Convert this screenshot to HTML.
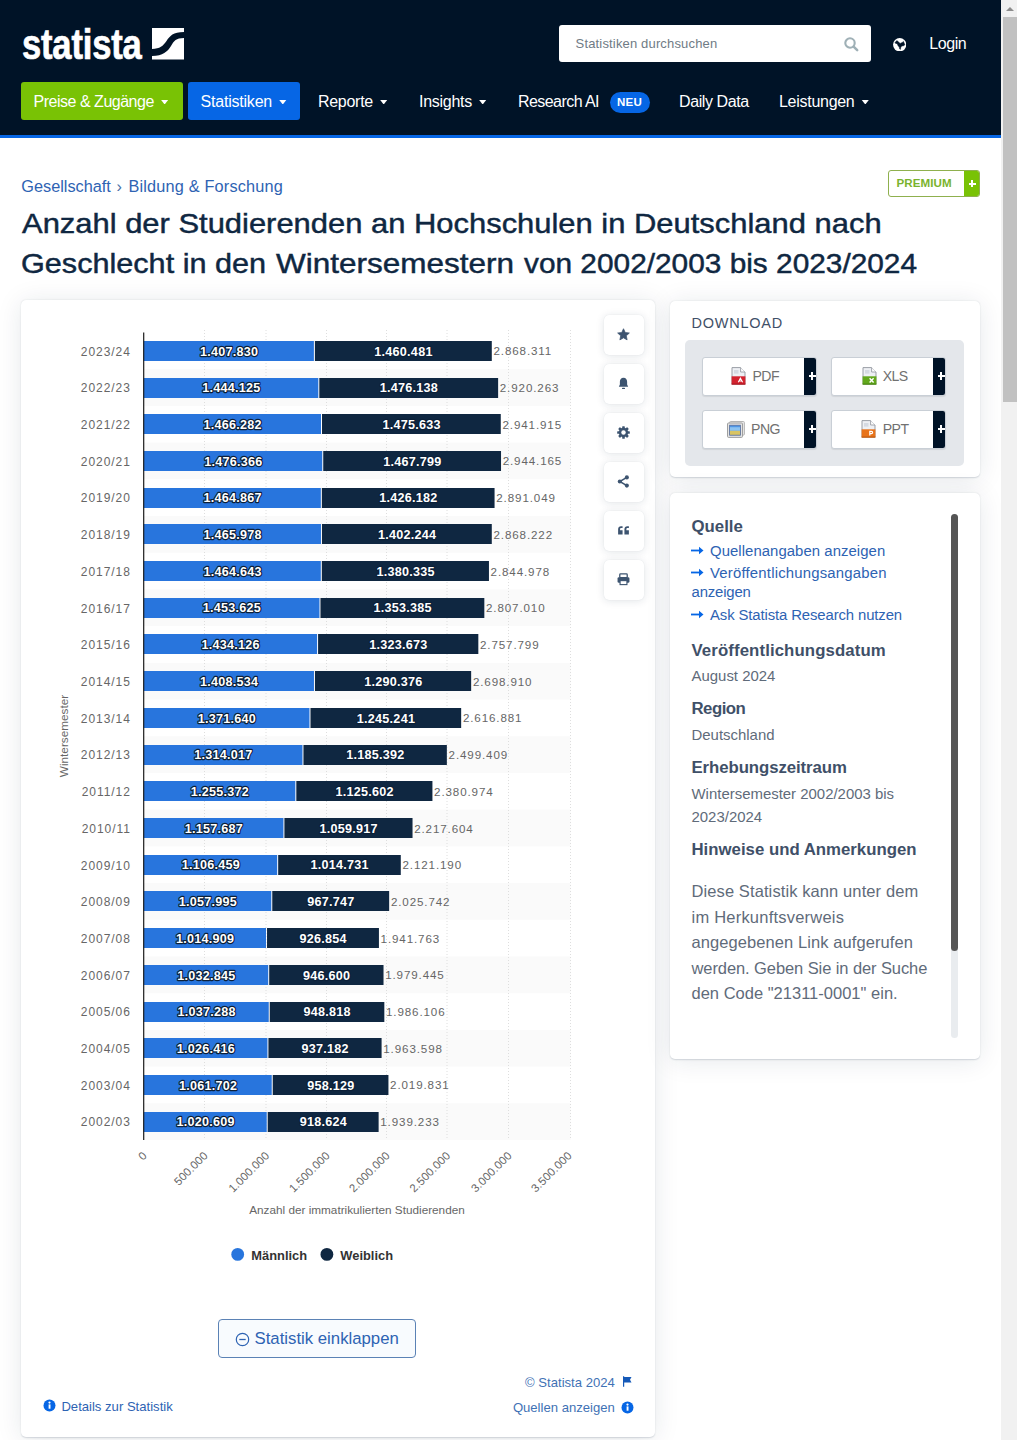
<!DOCTYPE html>
<html lang="de">
<head>
<meta charset="utf-8">
<title>Studierende an Hochschulen in Deutschland nach Geschlecht bis 2023/2024 | Statista</title>
<style>
*{box-sizing:border-box;margin:0;padding:0}
html,body{width:1017px;height:1440px;overflow:hidden;background:#fff}
body{font-family:"Liberation Sans",sans-serif;color:#0f2741;position:relative}
a{text-decoration:none;color:inherit}
.abs{position:absolute}
/* fake scrollbar */
.sb{position:absolute;left:1001px;top:0;width:16px;height:1440px;background:#f1f1f1}
.sb .thumb{position:absolute;left:1.8px;top:17px;width:14.2px;height:384.5px;background:#c1c1c1}
.sb .arr{position:absolute;left:4.8px;top:6.5px;width:0;height:0;border-left:4px solid transparent;border-right:4px solid transparent;border-bottom:4.4px solid #8c8c8c}
/* header */
.hdr{position:absolute;left:0;top:0;width:1001px;height:138px;background:#001327;border-bottom:3px solid #0666e5}
.logo{position:absolute;left:21.6px;top:21.4px;color:#fff;font-weight:700;font-size:42px;line-height:48px;letter-spacing:-0.2px;transform-origin:0 50%;transform:scaleX(.822);white-space:nowrap;-webkit-text-stroke:.7px #fff}
.logomark{position:absolute;left:152px;top:28px}
.search{position:absolute;left:558.6px;top:24.7px;width:312.2px;height:37.8px;background:#fff;border-radius:3px}
.search span{position:absolute;left:17px;top:11.2px;font-size:13px;letter-spacing:.16px;line-height:16px;color:#6f7b85}
.search svg{position:absolute;left:285.3px;top:12px}
.globe{position:absolute;left:893.1px;top:37.5px}
.login{position:absolute;left:929.3px;top:32.5px;letter-spacing:-.45px;font-size:16px;line-height:22px;color:#fff}
.nav{position:absolute;top:82px;height:38px;line-height:39.2px;font-size:16px;color:#fff;white-space:nowrap}
.nav.btn{border-radius:3px;padding-left:12.6px}
.nav i{display:inline-block;width:7.8px;height:4.8px;margin-left:6.9px;vertical-align:2.6px;background:#fff;clip-path:polygon(0 0,100% 0,50% 100%)}
.neu{display:inline-block;vertical-align:1px;margin-left:10.5px;letter-spacing:.2px;background:#0666e5;color:#fff;font-size:11.5px;font-weight:700;line-height:21px;height:21px;width:40px;text-align:center;border-radius:11px;letter-spacing:.2px}
/* content */
.bc{position:absolute;left:21.3px;top:175.3px;font-size:16.3px;line-height:22px;color:#2e63b3;white-space:nowrap}
.bc .sep{color:#4a6fa8;margin:0 6.6px 0 5.5px}
.bc a+span+a{letter-spacing:.18px}
.prem{position:absolute;left:888px;top:170px;width:92px;height:27px;border:1px solid #8fb04e;border-radius:3px;background:#fff;overflow:hidden}
.prem b{position:absolute;left:7.4px;top:-1.1px;line-height:25px;font-size:11.6px;color:#7ab32e;letter-spacing:.1px}
.prem u{position:absolute;right:-1px;top:-1px;width:16px;height:27px;background:#79c205}
.prem u:before,.prem u:after{content:"";position:absolute;background:#fff;left:4.5px;top:13px;width:7px;height:1.8px}
.prem u:after{left:7.1px;top:10.4px;width:1.8px;height:7px}
h1{position:absolute;left:22.2px;top:203.9px;font-size:27.8px;line-height:39.7px;font-weight:400;color:#0f2741;white-space:nowrap;-webkit-text-stroke:.45px #0f2741}
h1 span{display:block;transform-origin:0 0}
.card{position:absolute;background:#fff;border-radius:5px;box-shadow:0 .5px 1.5px rgba(15,39,65,.16),0 2px 26px rgba(15,39,65,.10)}
.chart{position:absolute;left:0;top:-0.4px}
.chart text{font-family:"Liberation Sans",sans-serif}
.cat{font-size:12px;fill:#666;letter-spacing:.95px}
.tot{font-size:11.6px;fill:#666;letter-spacing:.88px}
.dl{font-size:12.6px;letter-spacing:.25px;font-weight:700;fill:#fff;paint-order:stroke;stroke:#0c2038;stroke-width:2.3px;stroke-linejoin:round}
.xl{font-size:11.4px;fill:#666;letter-spacing:.15px}
.xt,.yt{font-size:11.75px;fill:#666}
.lg{font-size:12.9px;font-weight:700;fill:#333}
.ib{position:absolute;left:603.5px;width:40px;height:40px;background:#fff;border-radius:5px;box-shadow:0 0 1px rgba(15,39,65,.12),0 1px 9px rgba(15,39,65,.12)}
.ib svg{position:absolute;left:13.3px;top:13.2px;width:13px;height:13px}

/* right column */
.dlh{position:absolute;left:21.6px;top:12.4px;font-size:14.5px;line-height:20px;letter-spacing:.75px;color:#3f5068}
.dlbox{position:absolute;left:15px;top:39px;width:279px;height:126px;background:#e4e7eb;border-radius:5px}
.dbt{position:absolute;width:115px;height:39px;background:#fff;border:1px solid #c9cfd6;border-radius:3px;overflow:hidden;box-shadow:0 1px 1px rgba(0,0,0,.08)}
.dbt u{position:absolute;right:-1px;top:-1px;width:13px;height:39px;background:#001327}
.dbt u:before,.dbt u:after{content:"";position:absolute;background:#fff;left:4.6px;top:18.5px;width:7.4px;height:1.8px}
.dbt u:after{left:7.4px;top:15.7px;width:1.8px;height:7.4px}
.dbt span{position:absolute;top:8.6px;font-size:14.1px;letter-spacing:-.6px;line-height:20px;color:#717171}
.dbt div{position:absolute;line-height:0}
.info h3{position:absolute;left:21.5px;font-size:16.8px;line-height:22px;font-weight:700;color:#3f5068;white-space:nowrap}
.info p{position:absolute;left:21.5px;font-size:14.95px;line-height:23px;color:#5f6b7a;white-space:nowrap}
.info p.big{font-size:16.5px;line-height:25.5px;letter-spacing:.05px}
.info a{position:absolute;left:21.5px;font-size:14.9px;line-height:21px;color:#2e63b3;white-space:nowrap}
.info a svg{display:inline-block;margin-right:6.5px;margin-left:-1px;vertical-align:1px}
.sbar{position:absolute;left:281px;top:21px;width:7px;height:524px;background:#e9ecef;border-radius:4px}
.sbar i{position:absolute;left:0;top:0;width:7px;height:437px;background:#555;border-radius:4px}
.collapse{position:absolute;left:197px;top:1019px;width:198px;height:39px;border:1px solid #5b82b5;border-radius:4px;background:#f8fbfe;color:#2e63b3;font-size:16.75px;line-height:38.4px;white-space:nowrap}
.collapse svg{position:absolute;left:16px;top:12px}
.collapse span{position:absolute;left:35.5px;top:0}
.ft{position:absolute;font-size:13.1px;line-height:18px;color:#3f72b5;white-space:nowrap}
</style>
</head>
<body>
<div class="hdr">
  <div class="logo">statista</div>
  <svg class="logomark" width="32" height="32" viewBox="0 0 32 32"><rect width="32" height="31.5" fill="#fff"/><path d="M0 20.9 C8 20.9 11 18 14.5 13 C18 8 21 4.2 32 4.1 L32 10.1 C24 10.2 22 13 19 18 C15.5 23.5 11 28 0 28 Z" fill="#001327"/></svg>
  <div class="search"><span>Statistiken durchsuchen</span>
    <svg width="15" height="15" viewBox="0 0 15 15"><circle cx="6" cy="6" r="4.7" fill="none" stroke="#9fb0b6" stroke-width="2.1"/><path d="M9.6 9.6 L13.2 13.2" stroke="#9fb0b6" stroke-width="2.5" stroke-linecap="round"/></svg>
  </div>
  <svg class="globe" width="13.4" height="13.4" viewBox="0 0 13.3 13.3"><circle cx="6.65" cy="6.65" r="6.6" fill="#fff"/><path d="M1.9 4.6L3.8 2.6L5 3.6L7.1 5.4L9.2 4.4L10.4 3.4L11 5L11.8 6.7L10.6 7.6L8.6 8L7.8 9.2L7.3 11.4L6.6 10.8L6.2 9L5 7.6L4.2 5.6L2.8 5.4Z" fill="#001327" stroke="#001327" stroke-width=".5" stroke-linejoin="round"/></svg>
  <div class="login">Login</div>
  <div class="nav btn" style="left:21px;width:162px;background:#79c205;letter-spacing:-.49px">Preise &amp; Zugänge<i></i></div>
  <div class="nav btn" style="left:188px;width:112px;background:#0666e5;letter-spacing:-.22px">Statistiken<i></i></div>
  <div class="nav" style="left:318px;letter-spacing:-.29px">Reporte<i></i></div>
  <div class="nav" style="left:419px;letter-spacing:-.28px">Insights<i></i></div>
  <div class="nav" style="left:518px;letter-spacing:-.56px">Research AI<span class="neu">NEU</span></div>
  <div class="nav" style="left:679px;letter-spacing:-.41px">Daily Data</div>
  <div class="nav" style="left:779px;letter-spacing:-.28px">Leistungen<i></i></div>
</div>

<div class="bc"><a>Gesellschaft</a><span class="sep">›</span><a>Bildung &amp; Forschung</a></div>
<div class="prem"><b>PREMIUM</b><u></u></div>
<h1><span style="transform:scaleX(1.1125)">Anzahl der Studierenden an Hochschulen in Deutschland nach</span><span style="transform:scaleX(1.1013);margin-left:-1.5px">Geschlecht in den&nbsp;</span><span style="position:absolute;left:253.6px;top:39.7px;transform:scaleX(1.1332)">Wintersemestern</span><span style="position:absolute;left:502.3px;top:39.7px;transform:scaleX(1.0729)">von 2002/2003 bis 2023/2024</span></h1>

<div class="card" style="left:21px;top:300.4px;width:634.4px;height:1136.6px">
<svg class="chart" width="634" height="1000" viewBox="21 300 634 1000">
<rect x="144" y="369.20" width="426.5" height="36.70" fill="#fafafa"/>
<rect x="144" y="442.61" width="426.5" height="36.70" fill="#fafafa"/>
<rect x="144" y="516.02" width="426.5" height="36.70" fill="#fafafa"/>
<rect x="144" y="589.43" width="426.5" height="36.70" fill="#fafafa"/>
<rect x="144" y="662.84" width="426.5" height="36.70" fill="#fafafa"/>
<rect x="144" y="736.25" width="426.5" height="36.70" fill="#fafafa"/>
<rect x="144" y="809.66" width="426.5" height="36.70" fill="#fafafa"/>
<rect x="144" y="883.07" width="426.5" height="36.70" fill="#fafafa"/>
<rect x="144" y="956.48" width="426.5" height="36.70" fill="#fafafa"/>
<rect x="144" y="1029.89" width="426.5" height="36.70" fill="#fafafa"/>
<rect x="144" y="1103.30" width="426.5" height="36.70" fill="#fafafa"/>
<line x1="204.5" y1="330" x2="204.5" y2="1140.0" stroke="#dedede" stroke-width="1" stroke-dasharray="1,2"/>
<line x1="266.0" y1="330" x2="266.0" y2="1140.0" stroke="#dedede" stroke-width="1" stroke-dasharray="1,2"/>
<line x1="326.5" y1="330" x2="326.5" y2="1140.0" stroke="#dedede" stroke-width="1" stroke-dasharray="1,2"/>
<line x1="386.5" y1="330" x2="386.5" y2="1140.0" stroke="#dedede" stroke-width="1" stroke-dasharray="1,2"/>
<line x1="447.0" y1="330" x2="447.0" y2="1140.0" stroke="#dedede" stroke-width="1" stroke-dasharray="1,2"/>
<line x1="508.5" y1="330" x2="508.5" y2="1140.0" stroke="#dedede" stroke-width="1" stroke-dasharray="1,2"/>
<line x1="570.5" y1="330" x2="570.5" y2="1140.0" stroke="#dedede" stroke-width="1" stroke-dasharray="1,2"/>
<rect x="143.5" y="341" width="170.39" height="20" fill="#2875dd"/>
<rect x="314.89" y="341" width="176.90" height="20" fill="#0f2741"/>
<rect x="143.5" y="378" width="174.81" height="20" fill="#2875dd"/>
<rect x="319.31" y="378" width="178.81" height="20" fill="#0f2741"/>
<rect x="143.5" y="414" width="177.51" height="20" fill="#2875dd"/>
<rect x="322.01" y="414" width="178.75" height="20" fill="#0f2741"/>
<rect x="143.5" y="451" width="178.74" height="20" fill="#2875dd"/>
<rect x="323.24" y="451" width="177.79" height="20" fill="#0f2741"/>
<rect x="143.5" y="488" width="177.34" height="20" fill="#2875dd"/>
<rect x="321.84" y="488" width="172.72" height="20" fill="#0f2741"/>
<rect x="143.5" y="524" width="177.47" height="20" fill="#2875dd"/>
<rect x="321.97" y="524" width="169.81" height="20" fill="#0f2741"/>
<rect x="143.5" y="561" width="177.31" height="20" fill="#2875dd"/>
<rect x="321.81" y="561" width="167.14" height="20" fill="#0f2741"/>
<rect x="143.5" y="598" width="175.97" height="20" fill="#2875dd"/>
<rect x="320.47" y="598" width="163.86" height="20" fill="#0f2741"/>
<rect x="143.5" y="634" width="173.59" height="20" fill="#2875dd"/>
<rect x="318.09" y="634" width="160.24" height="20" fill="#0f2741"/>
<rect x="143.5" y="671" width="170.47" height="20" fill="#2875dd"/>
<rect x="314.97" y="671" width="156.18" height="20" fill="#0f2741"/>
<rect x="143.5" y="708" width="165.98" height="20" fill="#2875dd"/>
<rect x="310.48" y="708" width="150.68" height="20" fill="#0f2741"/>
<rect x="143.5" y="745" width="158.96" height="20" fill="#2875dd"/>
<rect x="303.46" y="745" width="143.39" height="20" fill="#0f2741"/>
<rect x="143.5" y="781" width="151.82" height="20" fill="#2875dd"/>
<rect x="296.32" y="781" width="136.11" height="20" fill="#0f2741"/>
<rect x="143.5" y="818" width="139.92" height="20" fill="#2875dd"/>
<rect x="284.42" y="818" width="128.11" height="20" fill="#0f2741"/>
<rect x="143.5" y="855" width="133.68" height="20" fill="#2875dd"/>
<rect x="278.18" y="855" width="122.60" height="20" fill="#0f2741"/>
<rect x="143.5" y="891" width="127.77" height="20" fill="#2875dd"/>
<rect x="272.27" y="891" width="116.88" height="20" fill="#0f2741"/>
<rect x="143.5" y="928" width="122.53" height="20" fill="#2875dd"/>
<rect x="267.03" y="928" width="111.90" height="20" fill="#0f2741"/>
<rect x="143.5" y="965" width="124.71" height="20" fill="#2875dd"/>
<rect x="269.21" y="965" width="114.31" height="20" fill="#0f2741"/>
<rect x="143.5" y="1002" width="125.25" height="20" fill="#2875dd"/>
<rect x="269.75" y="1002" width="114.58" height="20" fill="#0f2741"/>
<rect x="143.5" y="1038" width="123.93" height="20" fill="#2875dd"/>
<rect x="268.43" y="1038" width="113.16" height="20" fill="#0f2741"/>
<rect x="143.5" y="1075" width="128.23" height="20" fill="#2875dd"/>
<rect x="272.73" y="1075" width="115.71" height="20" fill="#0f2741"/>
<rect x="143.5" y="1112" width="123.22" height="20" fill="#2875dd"/>
<rect x="267.72" y="1112" width="110.90" height="20" fill="#0f2741"/>
<line x1="143.7" y1="332.5" x2="143.7" y2="1140.0" stroke="#1b1b1b" stroke-width="1.2"/>
<text class="cat" x="130.8" y="355.6" text-anchor="end">2023/24</text>
<text class="dl" x="229.1" y="355.5" text-anchor="middle">1.407.830</text>
<text class="dl" x="403.5" y="355.5" text-anchor="middle">1.460.481</text>
<text class="tot" x="493.5" y="355.3">2.868.311</text>
<text class="cat" x="130.8" y="392.3" text-anchor="end">2022/23</text>
<text class="dl" x="231.4" y="392.2" text-anchor="middle">1.444.125</text>
<text class="dl" x="408.9" y="392.2" text-anchor="middle">1.476.138</text>
<text class="tot" x="499.8" y="392.0">2.920.263</text>
<text class="cat" x="130.8" y="429.0" text-anchor="end">2021/22</text>
<text class="dl" x="232.7" y="428.9" text-anchor="middle">1.466.282</text>
<text class="dl" x="411.6" y="428.9" text-anchor="middle">1.475.633</text>
<text class="tot" x="502.5" y="428.7">2.941.915</text>
<text class="cat" x="130.8" y="465.7" text-anchor="end">2020/21</text>
<text class="dl" x="233.3" y="465.6" text-anchor="middle">1.476.366</text>
<text class="dl" x="412.3" y="465.6" text-anchor="middle">1.467.799</text>
<text class="tot" x="502.7" y="465.4">2.944.165</text>
<text class="cat" x="130.8" y="502.4" text-anchor="end">2019/20</text>
<text class="dl" x="232.6" y="502.3" text-anchor="middle">1.464.867</text>
<text class="dl" x="408.4" y="502.3" text-anchor="middle">1.426.182</text>
<text class="tot" x="496.3" y="502.1">2.891.049</text>
<text class="cat" x="130.8" y="539.1" text-anchor="end">2018/19</text>
<text class="dl" x="232.7" y="539.0" text-anchor="middle">1.465.978</text>
<text class="dl" x="407.1" y="539.0" text-anchor="middle">1.402.244</text>
<text class="tot" x="493.5" y="538.8">2.868.222</text>
<text class="cat" x="130.8" y="575.8" text-anchor="end">2017/18</text>
<text class="dl" x="232.6" y="575.7" text-anchor="middle">1.464.643</text>
<text class="dl" x="405.6" y="575.7" text-anchor="middle">1.380.335</text>
<text class="tot" x="490.6" y="575.5">2.844.978</text>
<text class="cat" x="130.8" y="612.5" text-anchor="end">2016/17</text>
<text class="dl" x="231.9" y="612.4" text-anchor="middle">1.453.625</text>
<text class="dl" x="402.6" y="612.4" text-anchor="middle">1.353.385</text>
<text class="tot" x="486.0" y="612.2">2.807.010</text>
<text class="cat" x="130.8" y="649.2" text-anchor="end">2015/16</text>
<text class="dl" x="230.7" y="649.1" text-anchor="middle">1.434.126</text>
<text class="dl" x="398.4" y="649.1" text-anchor="middle">1.323.673</text>
<text class="tot" x="480.0" y="648.9">2.757.799</text>
<text class="cat" x="130.8" y="685.9" text-anchor="end">2014/15</text>
<text class="dl" x="229.2" y="685.8" text-anchor="middle">1.408.534</text>
<text class="dl" x="393.3" y="685.8" text-anchor="middle">1.290.376</text>
<text class="tot" x="472.9" y="685.6">2.698.910</text>
<text class="cat" x="130.8" y="722.6" text-anchor="end">2013/14</text>
<text class="dl" x="226.9" y="722.5" text-anchor="middle">1.371.640</text>
<text class="dl" x="386.0" y="722.5" text-anchor="middle">1.245.241</text>
<text class="tot" x="462.9" y="722.3">2.616.881</text>
<text class="cat" x="130.8" y="759.4" text-anchor="end">2012/13</text>
<text class="dl" x="223.4" y="759.3" text-anchor="middle">1.314.017</text>
<text class="dl" x="375.4" y="759.3" text-anchor="middle">1.185.392</text>
<text class="tot" x="448.6" y="759.1">2.499.409</text>
<text class="cat" x="130.8" y="796.1" text-anchor="end">2011/12</text>
<text class="dl" x="219.9" y="796.0" text-anchor="middle">1.255.372</text>
<text class="dl" x="364.6" y="796.0" text-anchor="middle">1.125.602</text>
<text class="tot" x="434.1" y="795.8">2.380.974</text>
<text class="cat" x="130.8" y="832.8" text-anchor="end">2010/11</text>
<text class="dl" x="213.9" y="832.7" text-anchor="middle">1.157.687</text>
<text class="dl" x="348.7" y="832.7" text-anchor="middle">1.059.917</text>
<text class="tot" x="414.2" y="832.5">2.217.604</text>
<text class="cat" x="130.8" y="869.5" text-anchor="end">2009/10</text>
<text class="dl" x="210.8" y="869.4" text-anchor="middle">1.106.459</text>
<text class="dl" x="339.7" y="869.4" text-anchor="middle">1.014.731</text>
<text class="tot" x="402.5" y="869.2">2.121.190</text>
<text class="cat" x="130.8" y="906.2" text-anchor="end">2008/09</text>
<text class="dl" x="207.8" y="906.1" text-anchor="middle">1.057.995</text>
<text class="dl" x="330.9" y="906.1" text-anchor="middle">967.747</text>
<text class="tot" x="390.9" y="905.9">2.025.742</text>
<text class="cat" x="130.8" y="942.9" text-anchor="end">2007/08</text>
<text class="dl" x="205.2" y="942.8" text-anchor="middle">1.014.909</text>
<text class="dl" x="323.2" y="942.8" text-anchor="middle">926.854</text>
<text class="tot" x="380.6" y="942.6">1.941.763</text>
<text class="cat" x="130.8" y="979.6" text-anchor="end">2006/07</text>
<text class="dl" x="206.3" y="979.5" text-anchor="middle">1.032.845</text>
<text class="dl" x="326.6" y="979.5" text-anchor="middle">946.600</text>
<text class="tot" x="385.2" y="979.3">1.979.445</text>
<text class="cat" x="130.8" y="1016.3" text-anchor="end">2005/06</text>
<text class="dl" x="206.6" y="1016.2" text-anchor="middle">1.037.288</text>
<text class="dl" x="327.2" y="1016.2" text-anchor="middle">948.818</text>
<text class="tot" x="386.0" y="1016.0">1.986.106</text>
<text class="cat" x="130.8" y="1053.0" text-anchor="end">2004/05</text>
<text class="dl" x="205.9" y="1052.9" text-anchor="middle">1.026.416</text>
<text class="dl" x="325.2" y="1052.9" text-anchor="middle">937.182</text>
<text class="tot" x="383.3" y="1052.7">1.963.598</text>
<text class="cat" x="130.8" y="1089.7" text-anchor="end">2003/04</text>
<text class="dl" x="208.1" y="1089.6" text-anchor="middle">1.061.702</text>
<text class="dl" x="330.8" y="1089.6" text-anchor="middle">958.129</text>
<text class="tot" x="390.1" y="1089.4">2.019.831</text>
<text class="cat" x="130.8" y="1126.4" text-anchor="end">2002/03</text>
<text class="dl" x="205.6" y="1126.3" text-anchor="middle">1.020.609</text>
<text class="dl" x="323.4" y="1126.3" text-anchor="middle">918.624</text>
<text class="tot" x="380.3" y="1126.1">1.939.233</text>
<text class="xl" transform="translate(147.7,1156.3) rotate(-45)" text-anchor="end">0</text>
<text class="xl" transform="translate(208.5,1156.3) rotate(-45)" text-anchor="end">500.000</text>
<text class="xl" transform="translate(270.0,1156.3) rotate(-45)" text-anchor="end">1.000.000</text>
<text class="xl" transform="translate(330.5,1156.3) rotate(-45)" text-anchor="end">1.500.000</text>
<text class="xl" transform="translate(390.5,1156.3) rotate(-45)" text-anchor="end">2.000.000</text>
<text class="xl" transform="translate(451.0,1156.3) rotate(-45)" text-anchor="end">2.500.000</text>
<text class="xl" transform="translate(512.5,1156.3) rotate(-45)" text-anchor="end">3.000.000</text>
<text class="xl" transform="translate(572.5,1156.3) rotate(-45)" text-anchor="end">3.500.000</text>
<text class="xt" x="357" y="1214" text-anchor="middle">Anzahl der immatrikulierten Studierenden</text>
<text class="yt" transform="translate(68,736) rotate(-90)" text-anchor="middle">Wintersemester</text>
<circle cx="237.7" cy="1254.4" r="6.4" fill="#2875dd"/>
<text class="lg" x="251.3" y="1259.7">Männlich</text>
<circle cx="326.9" cy="1254.4" r="6.4" fill="#0f2741"/>
<text class="lg" x="340.3" y="1259.7">Weiblich</text>
</svg>

<div class="collapse abs"><svg width="15" height="15" viewBox="0 0 15 15"><circle cx="7.5" cy="7.5" r="6.2" fill="none" stroke="#2e63b3" stroke-width="1.2"/><path d="M4.3 7.5H10.7" stroke="#2e63b3" stroke-width="1.3"/></svg><span>Statistik einklappen</span></div>
<div class="ft" style="left:40.4px;top:1097.2px;color:#2e63b3"><span style="margin-left:0">Details zur Statistik</span></div>
<svg class="abs" style="left:22px;top:1099px" width="13" height="13" viewBox="0 0 13 13"><circle cx="6.5" cy="6.5" r="6" fill="#0666e5"/><rect x="5.6" y="5.4" width="1.9" height="4.3" fill="#fff"/><circle cx="6.5" cy="3.6" r="1.1" fill="#fff"/></svg>
<div class="ft" style="right:40.6px;top:1073.3px">© Statista 2024</div>
<svg class="abs" style="left:602px;top:1076px" width="9" height="11" viewBox="0 0 9 11"><path d="M0.5 0.3V10.7" stroke="#1559b8" stroke-width="1.4"/><path d="M1 1H8.5L7 3.7L8.5 6.5H1Z" fill="#1559b8"/></svg>
<div class="ft" style="right:40.6px;top:1098.6px">Quellen anzeigen</div>
<svg class="abs" style="left:600px;top:1101px" width="13" height="13" viewBox="0 0 13 13"><circle cx="6.5" cy="6.5" r="6" fill="#0666e5"/><rect x="5.6" y="5.4" width="1.9" height="4.3" fill="#fff"/><circle cx="6.5" cy="3.6" r="1.1" fill="#fff"/></svg>
</div>

<div class="ib" style="top:315px"><svg width="14" height="14" viewBox="0 0 14 14"><path d="M7 0.8 L8.9 4.9 L13.3 5.4 L10 8.4 L10.9 12.8 L7 10.6 L3.1 12.8 L4 8.4 L0.7 5.4 L5.1 4.9 Z" fill="#3d5470" stroke="#3d5470" stroke-width=".8" stroke-linejoin="round"/></svg></div>
<div class="ib" style="top:364px"><svg width="14" height="14" viewBox="0 0 14 14"><path d="M7 0.8 C9.6 0.8 10.9 2.8 10.9 5.2 L10.9 8.2 L12 10.6 L2 10.6 L3.1 8.2 L3.1 5.2 C3.1 2.8 4.4 0.8 7 0.8 Z" fill="#3d5470"/><rect x="5.4" y="11.6" width="3.2" height="1.3" rx=".6" fill="#3d5470"/></svg></div>
<div class="ib" style="top:413px"><svg width="14" height="14" viewBox="0 0 14 14"><g fill="#3d5470"><circle cx="7" cy="7" r="5"/><rect id="gt" x="5.6" y="0.2" width="2.8" height="13.6" rx=".7"/><rect x="5.6" y="0.2" width="2.8" height="13.6" rx=".7" transform="rotate(45 7 7)"/><rect x="5.6" y="0.2" width="2.8" height="13.6" rx=".7" transform="rotate(90 7 7)"/><rect x="5.6" y="0.2" width="2.8" height="13.6" rx=".7" transform="rotate(135 7 7)"/></g><circle cx="7" cy="7" r="2.4" fill="#fff"/></svg></div>
<div class="ib" style="top:462px"><svg width="14" height="14" viewBox="0 0 14 14"><path d="M10.6 2.6 L3 7 L10.6 11.4" fill="none" stroke="#3d5470" stroke-width="1.6"/><circle cx="10.6" cy="2.6" r="2.2" fill="#3d5470"/><circle cx="3" cy="7" r="2.2" fill="#3d5470"/><circle cx="10.6" cy="11.4" r="2.2" fill="#3d5470"/></svg></div>
<div class="ib" style="top:511px"><svg width="14" height="14" viewBox="0 0 14 14"><path d="M1.2 6.2 V11.2 H6 V6.8 H3.3 V5.6 C3.3 4.8 3.8 4.3 4.6 4.3 H6 V2.4 H4.4 C2.4 2.4 1.2 3.7 1.2 5.6 Z M8 6.2 V11.2 H12.8 V6.8 H10.1 V5.6 C10.1 4.8 10.6 4.3 11.4 4.3 H12.8 V2.4 H11.2 C9.2 2.4 8 3.7 8 5.6 Z" fill="#3d5470"/></svg></div>
<div class="ib" style="top:560px"><svg width="14" height="14" viewBox="0 0 14 14"><rect x="3" y="1" width="8" height="4" rx=".8" fill="none" stroke="#3d5470" stroke-width="1.4"/><rect x="0.6" y="4.6" width="12.8" height="6" rx="1.4" fill="#3d5470"/><rect x="3.3" y="8.2" width="7.4" height="4.3" fill="#fff" stroke="#3d5470" stroke-width="1.2"/></svg></div>

<div class="card" style="left:670px;top:300.6px;width:309.6px;height:176px">
  <div class="dlh">DOWNLOAD</div>
  <div class="dlbox">
    <div class="dbt" style="left:17px;top:17px"><span style="left:49.5px">PDF</span><div style="left:27.5px;top:9.8px"><svg width="15" height="18" viewBox="0 0 15 18"><path d="M1 0.6H9.6L14 5V17.2H1Z" fill="#eef0f4" stroke="#9a9ea6" stroke-width="1"/><path d="M9.6 0.6V5H14" fill="#fff" stroke="#9a9ea6" stroke-width=".9"/><rect x="3" y="3" width="4.5" height="3.6" fill="#d5dae2"/><rect x="0.6" y="9.3" width="13.8" height="8.2" fill="#d3232f"/><rect x="0.6" y="16.6" width="13.8" height="0.9" fill="#a3141f"/><path d="M7.3 15.3L9.4 11.2L11.6 15.3M8.2 14H10.8" stroke="#fff" stroke-width="1.1" fill="none"/></svg></div><u></u></div>
    <div class="dbt" style="left:146px;top:17px"><span style="left:50.8px">XLS</span><div style="left:29.5px;top:9.8px"><svg width="15" height="18" viewBox="0 0 15 18"><path d="M1 0.6H9.6L14 5V17.2H1Z" fill="#eef0f4" stroke="#9a9ea6" stroke-width="1"/><path d="M9.6 0.6V5H14" fill="#fff" stroke="#9a9ea6" stroke-width=".9"/><rect x="3" y="3" width="4.5" height="3.6" fill="#d5dae2"/><rect x="0.6" y="9.3" width="13.8" height="8.2" fill="#62a81c"/><rect x="0.6" y="16.6" width="13.8" height="0.9" fill="#47800f"/><path d="M7.6 11.2L11.6 15.4M11.6 11.2L7.6 15.4" stroke="#fff" stroke-width="1.4" fill="none"/></svg></div><u></u></div>
    <div class="dbt" style="left:17px;top:70px"><span style="left:48.1px">PNG</span><div style="left:24.2px;top:10.8px"><svg width="18" height="17" viewBox="0 0 18 17"><rect x="2.6" y="0.5" width="14.8" height="13.6" rx="1" fill="#e9e9e9" stroke="#b5b5b5"/><rect x="0.5" y="2" width="15" height="14.4" rx="1" fill="#e4e4e4" stroke="#9f9f9f"/><rect x="2.6" y="4.2" width="10.8" height="10" fill="#4f95e4"/><rect x="2.6" y="6.2" width="10.8" height="3.6" fill="#8cc3f2"/><rect x="2.6" y="9.8" width="10.8" height="4.4" fill="#d9c463"/><rect x="2.6" y="4.2" width="10.8" height="10" fill="none" stroke="#5a6f9c" stroke-width=".8"/></svg></div><u></u></div>
    <div class="dbt" style="left:146px;top:70px"><span style="left:50.8px">PPT</span><div style="left:28.7px;top:9.9px"><svg width="15" height="18" viewBox="0 0 15 18"><path d="M1 0.6H9.6L14 5V17.2H1Z" fill="#eef0f4" stroke="#9a9ea6" stroke-width="1"/><path d="M9.6 0.6V5H14" fill="#fff" stroke="#9a9ea6" stroke-width=".9"/><rect x="3" y="3" width="4.5" height="3.6" fill="#d5dae2"/><rect x="0.6" y="9.3" width="13.8" height="8.2" fill="#e8731a"/><rect x="0.6" y="16.6" width="13.8" height="0.9" fill="#b9540b"/><path d="M8.8 15.6V11.4H10.4Q11.6 11.4 11.6 12.6Q11.6 13.7 10.4 13.7H8.8" stroke="#fff" stroke-width="1.2" fill="none"/></svg></div><u></u></div>
  </div>
</div>
<div class="card info" style="left:670px;top:492.5px;width:309.6px;height:566px">
  <h3 style="top:23.6px">Quelle</h3>
  <a style="top:48.8px"><svg width="13" height="9" viewBox="0 0 13 9"><path d="M0 4.5H10" stroke="#0666e5" stroke-width="1.8"/><path d="M8 0.8L12.5 4.5L8 8.2Z" fill="#0666e5"/></svg><span style="letter-spacing:.06px">Quellenangaben anzeigen</span></a>
  <a style="top:70.8px"><svg width="13" height="9" viewBox="0 0 13 9"><path d="M0 4.5H10" stroke="#0666e5" stroke-width="1.8"/><path d="M8 0.8L12.5 4.5L8 8.2Z" fill="#0666e5"/></svg><span style="letter-spacing:.2px">Veröffentlichungsangaben</span></a>
  <a style="top:89.8px;letter-spacing:-.15px">anzeigen</a>
  <a style="top:112.3px"><svg width="13" height="9" viewBox="0 0 13 9"><path d="M0 4.5H10" stroke="#0666e5" stroke-width="1.8"/><path d="M8 0.8L12.5 4.5L8 8.2Z" fill="#0666e5"/></svg><span style="letter-spacing:-.12px">Ask Statista Research nutzen</span></a>
  <h3 style="top:147px;letter-spacing:.1px">Veröffentlichungsdatum</h3>
  <p style="top:171px">August 2024</p>
  <h3 style="top:205.4px;letter-spacing:-.5px">Region</h3>
  <p style="top:230px">Deutschland</p>
  <h3 style="top:264.5px;letter-spacing:-.08px">Erhebungszeitraum</h3>
  <p style="top:289.1px">Wintersemester 2002/2003 bis<br>2023/2024</p>
  <h3 style="top:346.2px">Hinweise und Anmerkungen</h3>
  <p class="big" style="top:386.7px"><span style="letter-spacing:.1px">Diese Statistik kann unter dem</span><br><span style="letter-spacing:.22px">im Herkunftsverweis</span><br><span style="letter-spacing:.08px">angegebenen Link aufgerufen</span><br><span style="letter-spacing:-.09px">werden. Geben Sie in der Suche</span><br><span style="letter-spacing:.01px">den Code "21311-0001" ein.</span></p>
  <div class="sbar"><i></i></div>
</div>


<div class="sb"><div class="arr"></div><div class="thumb"></div></div>
</body>
</html>
